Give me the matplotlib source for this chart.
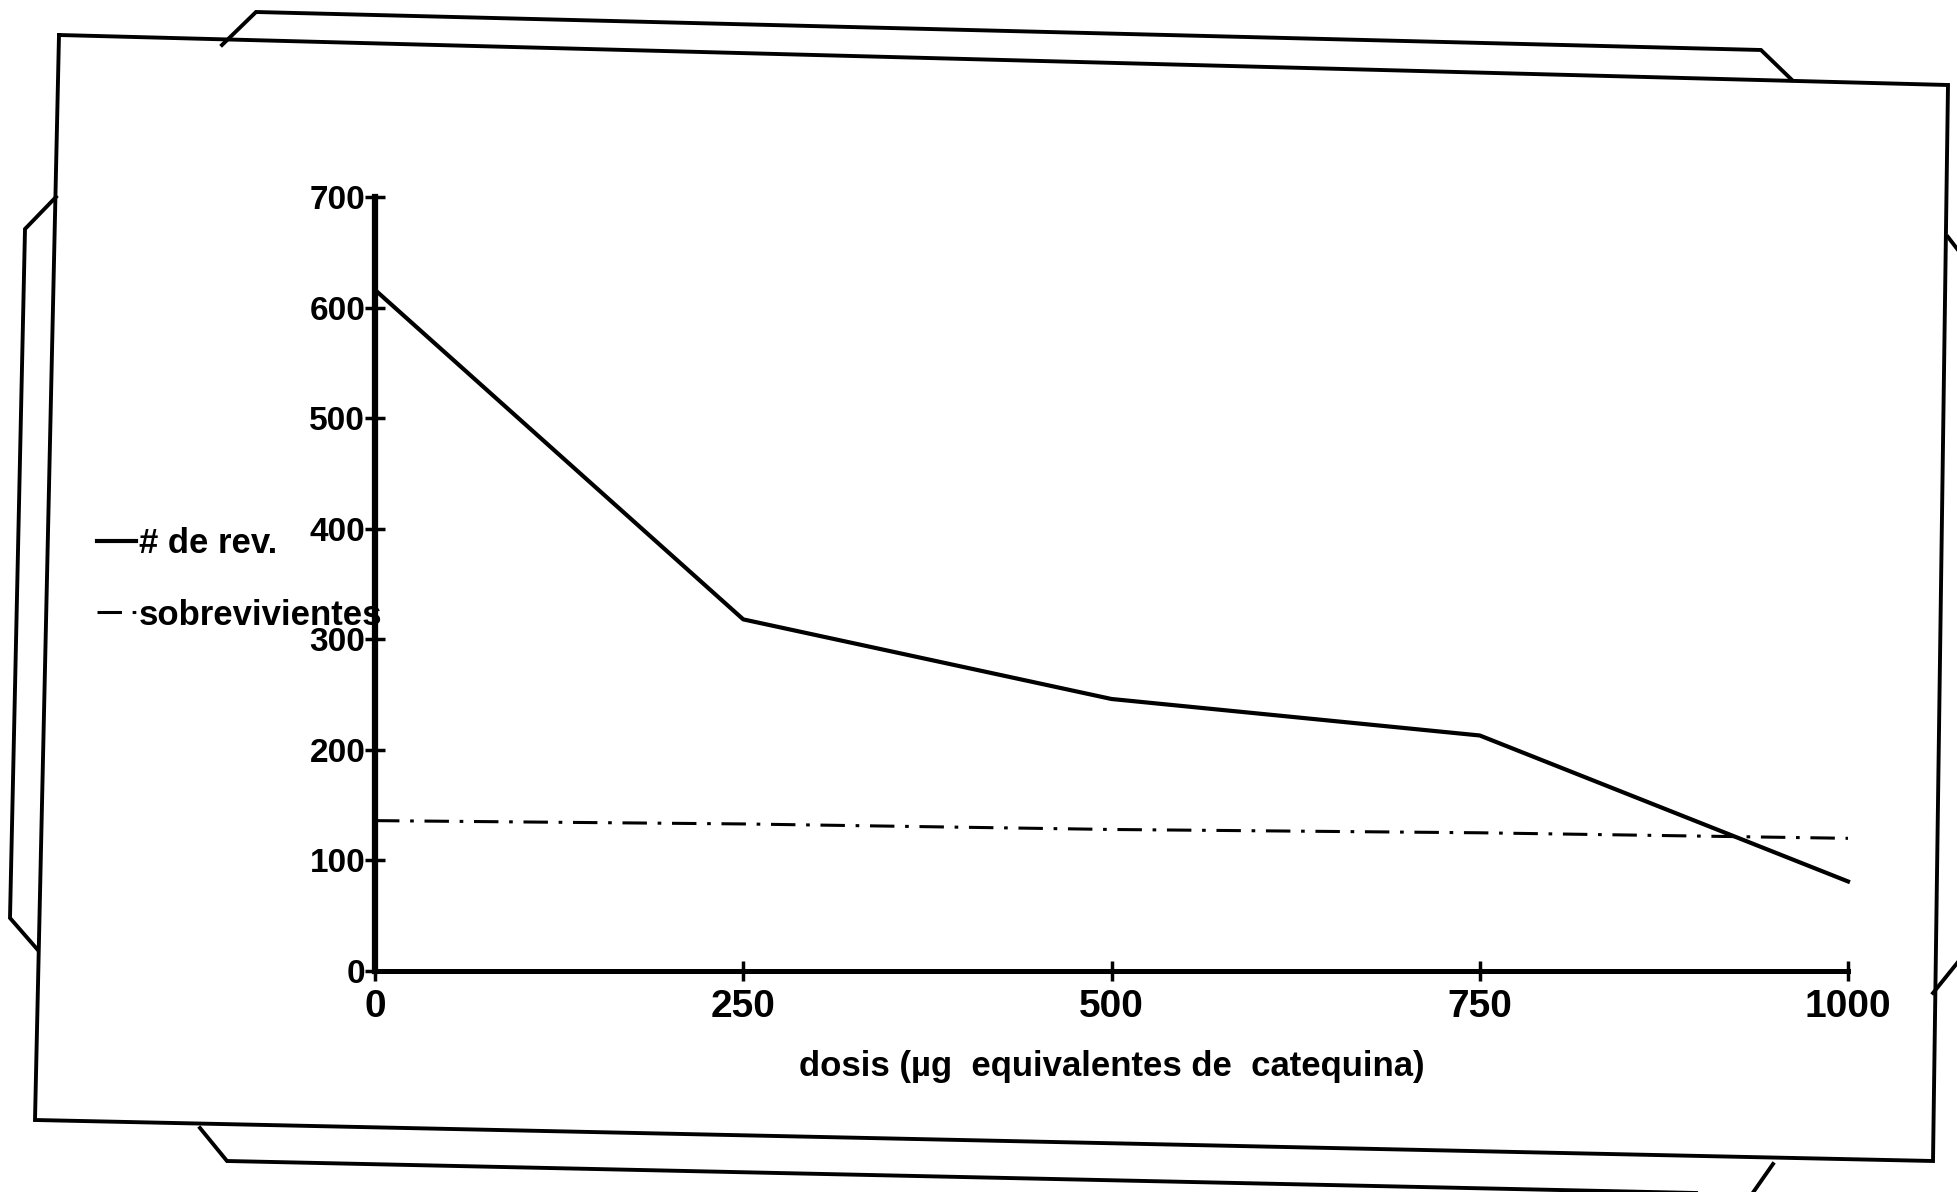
import matplotlib.pyplot as plt
from matplotlib.lines import Line2D

# datos
dosis = [0, 250, 500, 750, 1000]
revertantes = [616, 318, 246, 213, 81]
sobrevivientes = [136, 133, 128, 125, 120]
y_ticks = [0, 100, 200, 300, 400, 500, 600, 700]
x_ticks = [0, 250, 500, 750, 1000]

W, H = 1958, 1192
fig = plt.figure(figsize=(W / 100, H / 100), dpi=100)
fig.patch.set_facecolor('white')

fuente = ['Liberation Sans', 'DejaVu Sans']

# marco del papel escaneado (decoracion)
def px(points):
    xs = [p[0] / W for p in points]
    ys = [1 - p[1] / H for p in points]
    return xs, ys

frame = [
    [(59, 35), (1948, 85), (1933, 1161), (35, 1120), (59, 35)],
    [(222, 45), (256, 12), (1761, 50), (1792, 80)],
    [(56, 197), (25, 229), (10, 918), (37, 949)],
    [(1948, 237), (1958, 250)],
    [(1958, 962), (1933, 993)],
    [(200, 1128), (227, 1161), (1742, 1194)],
    [(1773, 1164), (1752, 1194)],
]
for poly in frame:
    xs, ys = px(poly)
    fig.add_artist(Line2D(xs, ys, color='black', lw=2.8, solid_joinstyle='miter'))

ax = fig.add_axes([375 / W, 1 - 971 / H, (1848 - 375) / W, (971 - 197) / H])
ax.set_facecolor('none')

l1, = ax.plot(dosis, revertantes, color='black', lw=3.0, clip_on=False, label='# de rev.')
l2, = ax.plot(dosis, sobrevivientes, color='black', lw=2.2, dashes=(8, 3.5, 1.2, 3.5),
              clip_on=False, label='sobrevivientes')

ax.set_xlim(0, 1000)
ax.set_ylim(0, 700)
for s in ['top', 'right']:
    ax.spines[s].set_visible(False)
ax.spines['left'].set_linewidth(4.5)
ax.spines['bottom'].set_linewidth(3.6)

ax.set_xticks(x_ticks)
ax.set_yticks(y_ticks)
ax.set_xticklabels([str(v) for v in x_ticks], family=fuente, fontweight='bold', fontsize=28)
ax.set_yticklabels([str(v) for v in y_ticks], family=fuente, fontweight='bold', fontsize=24)
ax.tick_params(axis='both', direction='inout', length=14, width=2.5, color='black')
ax.tick_params(axis='y', pad=0)
ax.tick_params(axis='x', pad=6)

ax.set_xlabel('dosis (µg  equivalentes de  catequina)', family=fuente, fontweight='bold',
              fontsize=25, labelpad=18)

fig.legend(handles=[l1, l2], loc='upper left', bbox_to_anchor=(80 / W, 1 - 510 / H),
           frameon=False, handlelength=1.1, handletextpad=0.1, labelspacing=1.1,
           borderpad=0, prop={'family': fuente, 'weight': 'bold', 'size': 25})

fig.savefig('out.png', dpi=100, facecolor='white')
